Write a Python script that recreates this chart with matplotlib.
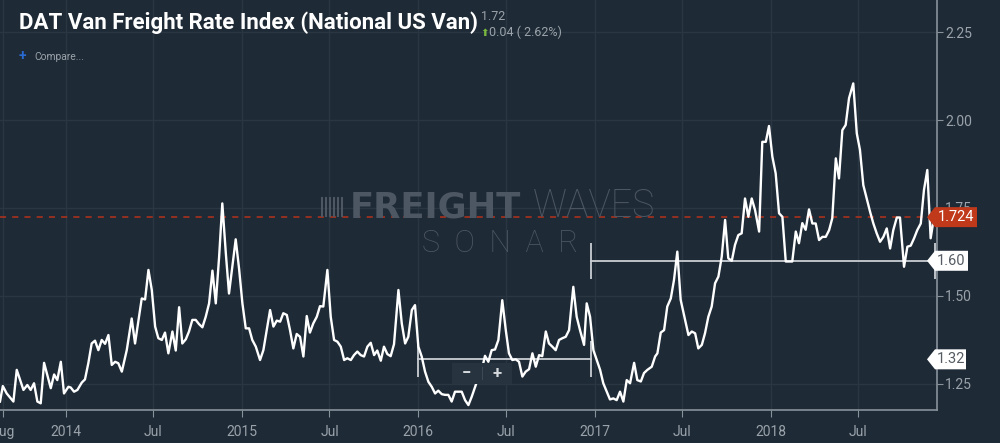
import numpy as np
import matplotlib.pyplot as plt
from matplotlib.patches import Polygon, Rectangle

# DAT national van rate ($/mile); t = decimal year
t = [2013.627, 2013.643, 2013.665, 2013.703, 2013.722, 2013.760, 2013.782, 2013.801, 2013.820,
     2013.839, 2013.858, 2013.877, 2013.915, 2013.934, 2013.952, 2013.972, 2013.990, 2014.015,
     2014.028, 2014.047, 2014.066, 2014.091, 2014.109, 2014.128, 2014.147, 2014.166, 2014.185,
     2014.204, 2014.223, 2014.242, 2014.261, 2014.280, 2014.298, 2014.318, 2014.346, 2014.374,
     2014.393, 2014.431, 2014.450, 2014.469, 2014.488, 2014.507, 2014.525, 2014.545, 2014.563,
     2014.582, 2014.605, 2014.624, 2014.643, 2014.661, 2014.681, 2014.699, 2014.718, 2014.737,
     2014.756, 2014.775, 2014.794, 2014.813, 2014.832, 2014.851, 2014.870, 2014.888, 2014.908,
     2014.926, 2014.945, 2014.964, 2014.983, 2015.002, 2015.021, 2015.040, 2015.058, 2015.078,
     2015.102, 2015.121, 2015.140, 2015.159, 2015.178, 2015.197, 2015.216, 2015.234, 2015.254,
     2015.272, 2015.291, 2015.310, 2015.329, 2015.348, 2015.367, 2015.385, 2015.404, 2015.424,
     2015.442, 2015.461, 2015.484, 2015.503, 2015.522, 2015.541, 2015.560, 2015.579, 2015.597,
     2015.617, 2015.635, 2015.654, 2015.673, 2015.692, 2015.711, 2015.730, 2015.749, 2015.767,
     2015.787, 2015.805, 2015.824, 2015.843, 2015.862, 2015.887, 2015.906, 2015.925, 2015.943,
     2015.963, 2015.981, 2016.000, 2016.019, 2016.038, 2016.057, 2016.076, 2016.095, 2016.113,
     2016.133, 2016.151, 2016.170, 2016.189, 2016.208, 2016.227, 2016.246, 2016.265, 2016.284,
     2016.303, 2016.322, 2016.340, 2016.360, 2016.378, 2016.397, 2016.416, 2016.435, 2016.454,
     2016.476, 2016.496, 2016.514, 2016.533, 2016.552, 2016.571, 2016.590, 2016.609, 2016.628,
     2016.647, 2016.666, 2016.685, 2016.703, 2016.723, 2016.741, 2016.760, 2016.779, 2016.798,
     2016.817, 2016.836, 2016.855, 2016.879, 2016.898, 2016.917, 2016.940, 2016.955, 2016.974,
     2016.993, 2017.012, 2017.031, 2017.049, 2017.069, 2017.087, 2017.106, 2017.125, 2017.144,
     2017.163, 2017.182, 2017.201, 2017.224, 2017.242, 2017.262, 2017.280, 2017.299, 2017.324,
     2017.343, 2017.356, 2017.375, 2017.394, 2017.412, 2017.432, 2017.450, 2017.469, 2017.488,
     2017.507, 2017.532, 2017.551, 2017.570, 2017.588, 2017.608, 2017.626, 2017.645, 2017.664,
     2017.683, 2017.702, 2017.721, 2017.740, 2017.758, 2017.778, 2017.796, 2017.815, 2017.834,
     2017.853, 2017.872, 2017.891, 2017.910, 2017.933, 2017.951, 2017.971, 2017.989, 2018.008,
     2018.027, 2018.046, 2018.065, 2018.084, 2018.103, 2018.121, 2018.141, 2018.159, 2018.178,
     2018.197, 2018.216, 2018.235, 2018.254, 2018.273, 2018.292, 2018.311, 2018.330, 2018.348,
     2018.368, 2018.386, 2018.405, 2018.424, 2018.443, 2018.467, 2018.487, 2018.505, 2018.524,
     2018.543, 2018.562, 2018.581, 2018.600, 2018.619, 2018.638, 2018.657, 2018.676, 2018.694,
     2018.714, 2018.732, 2018.755, 2018.774, 2018.793, 2018.812, 2018.830, 2018.850, 2018.868,
     2018.887, 2018.906, 2018.925]
rate = [1.200, 1.244, 1.223, 1.200, 1.290, 1.233, 1.247, 1.233, 1.252,
        1.200, 1.195, 1.310, 1.238, 1.277, 1.261, 1.313, 1.223, 1.242,
        1.240, 1.228, 1.233, 1.254, 1.263, 1.309, 1.365, 1.373, 1.346,
        1.375, 1.364, 1.389, 1.304, 1.313, 1.309, 1.285, 1.346, 1.436,
        1.365, 1.493, 1.490, 1.574, 1.517, 1.413, 1.380, 1.375, 1.396,
        1.337, 1.399, 1.345, 1.468, 1.365, 1.377, 1.399, 1.432, 1.432,
        1.420, 1.411, 1.441, 1.479, 1.572, 1.479, 1.612, 1.763, 1.621,
        1.507, 1.583, 1.661, 1.578, 1.479, 1.408, 1.408, 1.375, 1.356,
        1.318, 1.346, 1.403, 1.460, 1.413, 1.430, 1.427, 1.451, 1.446,
        1.403, 1.351, 1.392, 1.384, 1.328, 1.443, 1.396, 1.422, 1.441,
        1.471, 1.470, 1.574, 1.441, 1.375, 1.370, 1.356, 1.318, 1.323,
        1.318, 1.332, 1.342, 1.332, 1.328, 1.356, 1.367, 1.332, 1.345,
        1.316, 1.356, 1.335, 1.329, 1.363, 1.517, 1.422, 1.365, 1.384,
        1.460, 1.474, 1.356, 1.328, 1.285, 1.256, 1.242, 1.223, 1.231,
        1.221, 1.219, 1.219, 1.200, 1.228, 1.228, 1.228, 1.204, 1.190,
        1.214, 1.242, 1.268, 1.290, 1.330, 1.313, 1.346, 1.348, 1.375,
        1.488, 1.403, 1.337, 1.318, 1.320, 1.313, 1.271, 1.285, 1.292,
        1.337, 1.299, 1.332, 1.329, 1.399, 1.365, 1.356, 1.346, 1.375,
        1.380, 1.384, 1.403, 1.526, 1.441, 1.403, 1.361, 1.479, 1.441,
        1.346, 1.318, 1.290, 1.252, 1.228, 1.206, 1.209, 1.204, 1.228,
        1.200, 1.261, 1.252, 1.310, 1.261, 1.257, 1.281, 1.290, 1.299,
        1.328, 1.337, 1.396, 1.403, 1.470, 1.493, 1.545, 1.626, 1.489,
        1.446, 1.389, 1.399, 1.394, 1.351, 1.361, 1.394, 1.441, 1.470,
        1.536, 1.555, 1.612, 1.716, 1.607, 1.600, 1.645, 1.673, 1.678,
        1.777, 1.725, 1.777, 1.744, 1.683, 1.938, 1.938, 1.983, 1.896,
        1.848, 1.735, 1.725, 1.598, 1.598, 1.598, 1.683, 1.650, 1.707,
        1.688, 1.746, 1.706, 1.706, 1.659, 1.668, 1.668, 1.687, 1.721,
        1.891, 1.834, 1.971, 1.986, 2.062, 2.104, 1.962, 1.915, 1.815,
        1.778, 1.740, 1.706, 1.678, 1.654, 1.668, 1.692, 1.635, 1.687,
        1.723, 1.723, 1.583, 1.640, 1.643, 1.664, 1.687, 1.706, 1.801,
        1.858, 1.664, 1.724]

last_value = 1.724
# range brackets (start, end, level)
band_start = [2016.0, 2016.98]
band_end = [2016.98, 2018.93]
band_level = [1.32, 1.60]

years = [2014, 2015, 2016, 2017, 2018]
aug_tick = 2013.642  # first (cut-off) month label
y_ticks = [1.25, 1.50, 1.75, 2.00, 2.25]

BG = "#1e2a36"
GRID = "#2a3743"
AXIS = "#88929b"
TXT = "#9aa3ab"
WM = "#4c5763"

plt.rcParams["font.family"] = ["Roboto", "DejaVu Sans"]

W, H = 1000, 443
fig = plt.figure(figsize=(W / 100, H / 100), dpi=100, facecolor=BG)
ax = fig.add_axes([0, 33 / H, 937 / W, 1 - 33 / H], facecolor=BG)

ax.set_xlim(2013.627, 2018.942)
ax.set_ylim(1.176, 2.341)

xt, xl = [aug_tick], ["Aug"]
for y in years:
    xt += [y, y + 0.496]
    xl += [str(y), "Jul"]
ax.set_xticks(xt)
ax.set_xticklabels(xl)
ax.set_yticks(y_ticks)
ax.set_yticklabels([f"{v:.2f}" for v in y_ticks])
ax.yaxis.tick_right()
ax.tick_params(axis="x", colors=AXIS, labelcolor=TXT, labelsize=10, length=5, pad=6)
ax.tick_params(axis="y", colors=AXIS, labelcolor=TXT, labelsize=10, length=4, pad=2)
ax.grid(True, color=GRID, linewidth=1)
ax.set_axisbelow(True)
for s in ["top", "left"]:
    ax.spines[s].set_visible(False)
for s in ["bottom", "right"]:
    ax.spines[s].set_color(AXIS)
    ax.spines[s].set_linewidth(1.2)

# watermark
fw = fig.text(350 / W, 1 - 217 / H, "FREIGHT", fontsize=25.5, fontweight="bold",
              family="DejaVu Sans", color=WM, va="baseline", zorder=0)
fig.text(533 / W, 1 - 217 / H, "WAVES", fontsize=27, fontweight=100,
         family=["Roboto"], color=WM, va="baseline", zorder=0)
fig.text(500 / W, 1 - 252 / H, "S  O  N  A  R", fontsize=22, fontweight="light",
         color=WM, va="baseline", ha="center", zorder=0)
for i in range(6):
    fig.patches.append(Rectangle(((321 + i * 4) / W, 1 - 217 / H), 2 / W, 20 / H,
                                 transform=fig.transFigure, facecolor=WM, edgecolor="none", zorder=0))

ax.plot(t, rate, color="white", linewidth=1.7, zorder=4)

ax.axhline(last_value, color="#b5321b", linewidth=1.1, dashes=(4, 4), zorder=3)

for x0, x1, lv in zip(band_start, band_end, band_level):
    ax.plot([x0, x1], [lv, lv], color="#c9ced3", linewidth=1.3, zorder=3)
    ax.plot([x0, x1], [lv, lv], linestyle="none", marker="|", markersize=26,
            markeredgewidth=1.3, color="#c9ced3", zorder=3)

# price tags on the right axis
to_fig = fig.transFigure.inverted()


def tag(value, text, face, fg, right):
    yy = to_fig.transform(ax.transData.transform((2018.0, value)))[1]
    h = 10 / H
    tip, body = 927 / W, 935 / W
    poly = Polygon([(tip, yy), (body, yy + h), (right / W, yy + h), (right / W, yy - h), (body, yy - h)],
                   closed=True, transform=fig.transFigure, facecolor=face, edgecolor="none", zorder=6)
    fig.patches.append(poly)
    fig.text((body + right / W) / 2, yy, text, color=fg, fontsize=10.5, ha="center", va="center", zorder=7)


tag(last_value, f"{last_value:.3f}", "#c0391b", "white", 977)
tag(band_level[1], f"{band_level[1]:.2f}", "white", "#555c63", 968)
tag(band_level[0], f"{band_level[0]:.2f}", "white", "#555c63", 966)

# zoom control
fig.patches.append(Rectangle((452 / W, 1 - 384 / H), 60 / W, 21 / H, transform=fig.transFigure,
                             facecolor="#27333f", edgecolor="none", zorder=5))
fig.patches.append(Rectangle((482 / W, 1 - 380 / H), 1 / W, 13 / H, transform=fig.transFigure,
                             facecolor="#3d4955", edgecolor="none", zorder=6))
fig.text(466 / W, 1 - 373.5 / H, "\u2212", color="#d5d9dd", fontsize=12, fontweight="bold",
         ha="center", va="center", zorder=7)
fig.text(497 / W, 1 - 373.5 / H, "+", color="#d5d9dd", fontsize=12, fontweight="bold",
         ha="center", va="center", zorder=7)

# header
fig.text(19 / W, 1 - 29.5 / H, "DAT Van Freight Rate Index (National US Van)", color="white",
         fontsize=16, fontweight="bold", va="baseline")
fig.text(481 / W, 1 - 20 / H, "1.72", color=TXT, fontsize=9, va="baseline")
fig.text(480 / W, 1 - 36 / H, "\u2b06", color="#79b73f", fontsize=7.5, family="DejaVu Sans", va="baseline")
fig.text(489 / W, 1 - 36 / H, "0.04 ( 2.62%)", color=TXT, fontsize=9, va="baseline")
fig.text(19 / W, 1 - 60 / H, "+", color="#2a6bd1", fontsize=10, fontweight="bold", va="baseline")
fig.text(34 / W, 1 - 60 / H, "Compare...", color=TXT, fontsize=7.4, va="baseline")

fig.savefig("out.png", dpi=100, facecolor=BG)
